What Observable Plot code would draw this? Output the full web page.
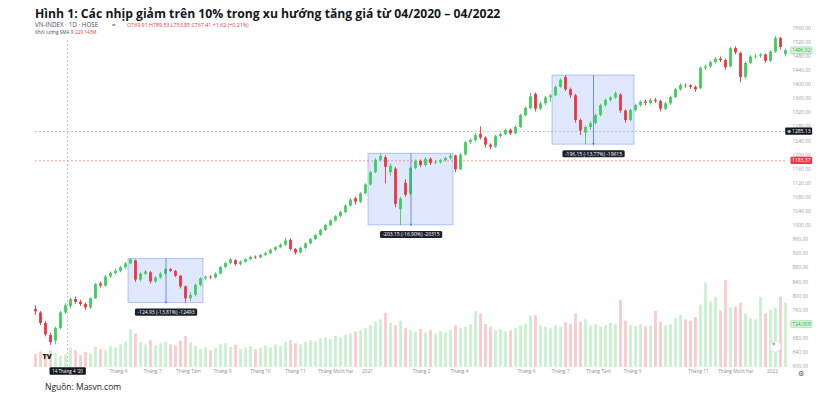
<!DOCTYPE html>
<html><head><meta charset="utf-8">
<script src="https://cdn.jsdelivr.net/npm/d3@7"></script>
<script src="https://cdn.jsdelivr.net/npm/@observablehq/plot@0.6"></script>
<style>
html,body{margin:0;padding:0;background:#fff;}
#wrap{position:relative;width:830px;height:397px;overflow:hidden;font-family:"Open Sans",sans-serif;}
#wrap > div, #wrap > svg{position:absolute;left:0;top:0;}
#wrap svg{overflow:visible;}
</style></head><body>
<div id="wrap">
  <div id="vol"></div>
  <div id="price"></div>
  <svg id="texts" width="830" height="397" style="pointer-events:none">
    <text x="35" y="17.5" font-size="12.2" font-weight="700" fill="#131722" font-family="Open Sans">Hình 1: Các nhịp giảm trên 10% trong xu hướng tăng giá từ 04/2020 – 04/2022</text>
    <text x="35" y="27" font-size="6.3" fill="#4a4e57" font-family="Open Sans">VN-INDEX · 1D · HOSE</text>
    <text x="112" y="27" font-size="6.3" fill="#4a4e57" font-family="Open Sans">=</text>
    <text x="127" y="27" font-size="5.3" fill="#e5383b" font-family="Open Sans">O769.91 H789.53 L753.85 C767.41 +1.62 (+0.21%)</text>
    <text x="35" y="33.6" font-size="4.7" fill="#4a4e57" font-family="Open Sans">Khối lượng SMA 9</text>
    <text x="75" y="33.6" font-size="4.7" fill="#e5383b" font-family="Open Sans">229.143M</text>
    <text x="45" y="390" font-size="8.5" fill="#222" font-family="Open Sans">Nguồn: Masvn.com</text>
  </svg>
</div>
<script>
// ---- data (one bar ≈ 2-3 trading sessions, 03/2020 → 01/2022) ----
const opens = [762,752,722,688,672,708,752,770,790,782,776,766,792,834,828,854,864,870,880,891,
900,845,862,866,840,851,862,875,870,856,826,792,802,830,849,853,851,862,881,892,
900,889,896,903,910,908,915,920,930,937,944,958,932,922,935,948,960,972,986,1000,
1013,1025,1037,1055,1076,1066,1090,1115,1150,1185,1192,1150,1160,1045,1120,1088,1162,1182,1170,1188,
1176,1178,1184,1190,1197,1158,1200,1235,1241,1258,1248,1228,1222,1252,1258,1270,1260,1278,1312,1332,
1372,1330,1345,1362,1368,1392,1420,1385,1368,1298,1262,1278,1289,1312,1340,1355,1362,1370,1325,1298,
1326,1340,1350,1346,1355,1352,1330,1345,1363,1385,1397,1396,1392,1388,1446,1450,1462,1472,1468,1450,
1502,1488,1420,1460,1478,1480,1484,1466,1492,1530,1485];
const closes = [755,722,690,668,708,752,772,790,782,776,766,792,832,828,854,864,870,880,891,903,
845,862,868,840,851,862,875,870,856,826,792,802,830,849,853,851,862,881,892,903,
889,896,903,910,908,915,920,930,937,944,956,932,922,935,948,960,972,986,1000,1013,
1025,1037,1055,1072,1066,1090,1115,1150,1185,1196,1165,1168,1060,1075,1086,1162,1182,1170,1188,1176,
1178,1184,1190,1197,1158,1200,1235,1241,1255,1248,1228,1222,1252,1258,1270,1260,1278,1312,1332,1365,
1330,1345,1362,1368,1392,1412,1385,1368,1298,1268,1278,1289,1312,1340,1355,1362,1374,1325,1298,1326,
1340,1350,1346,1355,1352,1330,1345,1363,1385,1397,1396,1392,1385,1446,1450,1462,1472,1468,1448,1502,
1490,1420,1460,1478,1480,1484,1466,1492,1530,1505,1496];
const highs = [772,756,728,695,712,756,778,794,797,788,780,795,836,840,858,868,876,884,895,906,
902,866,872,870,855,866,878,878,872,858,828,810,834,852,857,858,866,884,896,907,
903,900,906,913,914,918,924,933,940,948,964,962,935,938,951,963,975,989,1004,1016,
1028,1041,1059,1076,1080,1094,1119,1154,1190,1204,1198,1175,1165,1080,1130,1166,1186,1186,1192,1192,
1184,1188,1194,1202,1200,1204,1238,1246,1262,1280,1252,1232,1256,1262,1274,1274,1282,1316,1336,1375,
1376,1350,1366,1372,1396,1416,1425,1390,1372,1302,1282,1294,1316,1344,1359,1366,1379,1374,1328,1330,
1344,1354,1356,1360,1360,1355,1349,1367,1389,1402,1402,1400,1396,1450,1455,1466,1476,1478,1472,1506,
1507,1492,1464,1482,1486,1488,1487,1496,1536,1534,1500];
const lows = [745,716,684,660,662,704,748,764,776,770,760,762,790,822,825,850,860,866,876,888,
838,840,858,834,836,848,858,866,852,820,780,784,798,826,845,847,848,860,878,889,
885,885,892,900,904,905,912,917,926,934,941,927,916,919,932,945,957,969,983,996,
1009,1021,1034,1052,1058,1062,1087,1112,1147,1180,1118,1140,1050,1000,1080,1084,1158,1164,1166,1170,
1172,1174,1180,1186,1150,1155,1197,1230,1237,1243,1220,1215,1219,1248,1255,1255,1257,1275,1308,1328,
1322,1326,1340,1350,1365,1389,1380,1360,1290,1255,1229,1270,1285,1308,1336,1350,1358,1318,1290,1294,
1322,1336,1340,1342,1346,1322,1326,1341,1360,1381,1390,1386,1378,1385,1440,1446,1458,1462,1440,1447,
1484,1405,1414,1456,1472,1474,1460,1462,1488,1498,1478];
const volumes = [220,260,200,280,240,190,210,330,280,200,250,230,340,300,280,350,330,380,430,640,
560,420,380,450,360,400,420,380,360,440,520,420,360,300,330,280,320,380,400,340,
370,300,330,350,300,320,360,330,380,350,420,450,400,380,420,450,430,480,500,470,
520,490,540,560,600,620,650,700,760,800,910,740,700,780,650,620,600,640,580,620,
560,600,580,620,700,650,680,720,940,900,720,680,620,640,600,620,650,700,720,860,
870,700,680,650,700,680,750,720,900,760,800,700,720,680,700,740,720,1130,780,700,
690,720,680,700,940,760,700,720,820,880,800,780,840,1050,1420,1100,1180,950,1460,1000,
1020,1080,900,820,800,1180,900,960,1000,1180,1080];

// correction boxes (bar index span, top price, bottom price, label)
const boxStart = [18.6, 66.6, 103.4];
const boxEnd   = [33.6, 83.6, 119.8];
const boxTop   = [905, 1203.5, 1425.5];
const boxBottom= [780.07, 1000.35, 1229.35];
const boxLabels= ["-124.93 (-13.81%) -12493", "-203.15 (-16.90%) -20315", "-196.15 (-13.77%) -19615"];

// axes (720.00 is hidden under the volume-SMA tag in the reference)
const yTicks = [600,640,680,760,800,840,880,920,960,1000,1040,1080,1120,1160,1200,1240,1280,1320,1360,1400,1440,1480,1520,1560];
const xTickIdx = [16.6,23.4,30.6,37.4,45,52,60,66.4,77.2,84.8,98.2,105,112.6,119.4,132.6,140,147.4];
const xTickLabels = ["Tháng 6","Tháng 7","Tháng Tám","Tháng 9","Tháng 10","Tháng 11","Tháng Mười hai","2021","Tháng 2","Tháng 4","Tháng 6","Tháng 7","Tháng Tám","Tháng 9","Tháng 11","Tháng Mười hai","2022"];

// crosshair & price lines
const crossIdx = 6.4;
const crossDate = "14 Tháng 4 '20";
const crossPrice = 1266.7;
const crossPriceLabel = "⊕ 1285.13";
const prevLine = 1183.37;
const lastPrice = 1496.02;
const volSMA = 724.009;

// ---- build ----
const UP = "#3dcf5b", DN = "#ee3441", VUP = "#c6f0cb", VDN = "#f8c8ca";
const bars = opens.map((o, i) => ({i, o, c: closes[i], h: highs[i], l: lows[i], v: volumes[i]}));
const boxes = boxStart.map((s, k) => ({x1: s, x2: boxEnd[k], hi: boxTop[k], lo: boxBottom[k], label: boxLabels[k]}));
const xTicks = xTickIdx.map((i, k) => ({i, label: xTickLabels[k]}));
const priceTags = [
  {v: lastPrice, text: lastPrice.toFixed(2), fill: "#22a83a"},
  {v: crossPrice, text: crossPriceLabel, fill: "#ffffff"},
  {v: prevLine, text: prevLine.toFixed(2), fill: "#ffffff"}
];

const W = 830, H = 397, ML = 35, MR = 45, MT = 27.6;
const FONT = "Open Sans, sans-serif";
const n = bars.length - 1;

const volPlot = Plot.plot({
  width: W, height: H, marginTop: MT, marginBottom: 30, marginLeft: ML, marginRight: MR,
  style: {background: "transparent", fontFamily: FONT, overflow: "visible"},
  x: {domain: [0, n], axis: null},
  y: {domain: [0, 5700], axis: null},
  marks: [
    Plot.ruleX(bars, {x: "i", y1: 0, y2: "v", stroke: d => d.c >= d.o ? VUP : VDN, strokeWidth: 2.6}),
    Plot.text([{v: volSMA}], {frameAnchor: "right", y: "v", text: d => d.v.toFixed(3), dx: 25, textAnchor: "end", fontSize: 5, fill: "#22a83a"})
  ]
});

const pricePlot = Plot.plot({
  width: W, height: H, marginTop: MT, marginBottom: 31, marginLeft: ML, marginRight: MR,
  style: {background: "transparent", fontFamily: FONT, overflow: "visible"},
  x: {domain: [0, n], axis: null},
  y: {domain: [600, 1560], axis: null},
  marks: [
    Plot.rect(boxes, {x1: "x1", x2: "x2", y1: "lo", y2: "hi", fill: "#2962ff", fillOpacity: 0.15, stroke: "#2962ff", strokeOpacity: 0.4, strokeWidth: 0.8}),
    Plot.ruleY([prevLine], {stroke: "#f07f85", strokeDasharray: "2,2", strokeWidth: 0.8}),
    Plot.ruleY([crossPrice], {stroke: "#b2b5be", strokeDasharray: "2,2", strokeWidth: 0.8}),
    Plot.ruleX([crossIdx], {y1: 600, y2: 1530, stroke: "#b2b5be", strokeDasharray: "2,2", strokeWidth: 0.8}),
    Plot.ruleX(bars, {x: "i", y1: "l", y2: "h", stroke: d => d.c >= d.o ? UP : DN, strokeWidth: 0.9}),
    Plot.ruleX(bars, {x: "i", y1: "o", y2: "c", stroke: d => d.c >= d.o ? UP : DN, strokeWidth: 2.8}),
    Plot.arrow(boxes, {x1: d => (d.x1 + d.x2) / 2, x2: d => (d.x1 + d.x2) / 2, y1: "hi", y2: "lo", stroke: "#4f74e3", strokeWidth: 0.8, headLength: 3}),
    Plot.text(boxes, {x: d => (d.x1 + d.x2) / 2, y: "lo", text: "label", dy: 9.5, fill: "#ffffff", fontSize: 5}),
    Plot.axisY(yTicks, {anchor: "right", tickSize: 0, tickPadding: 7, tickFormat: d => d.toFixed(2), fontSize: 5, fill: "#9a9ea8", label: null}),
    Plot.text(priceTags, {frameAnchor: "right", y: "v", text: "text", fill: "fill", dx: 25, textAnchor: "end", fontSize: 5}),
    Plot.text(xTicks, {x: "i", text: "label", frameAnchor: "bottom", dy: 6, fontSize: 4.8, fill: "#8a8e97"}),
    Plot.text([crossDate], {x: crossIdx, frameAnchor: "bottom", dy: 6.5, fontSize: 4.6, fill: "#ffffff"}),
    Plot.text(["TV"], {frameAnchor: "bottom-left", dx: 7, dy: -8, fontSize: 7, fontWeight: 900, fill: "#131722"}),
    Plot.dot([0], {frameAnchor: "bottom-right", dx: -10, dy: -20, r: 5.5, fill: "#ffffff", stroke: "#d1d4dc", strokeWidth: 0.7}),
    Plot.text(["»"], {frameAnchor: "bottom-right", dx: -10, dy: -20.5, fontSize: 7, fill: "#50535e"}),
    Plot.text(["⚙"], {frameAnchor: "bottom-right", dx: 18, dy: 9.5, fontSize: 7, fill: "#50535e"})
  ]
});

document.getElementById("vol").appendChild(volPlot);
document.getElementById("price").appendChild(pricePlot);

// label backgrounds, sized from rendered text
const bgSpecs = {};
boxLabels.forEach(t => bgSpecs[t] = {bg: "#1e222d", stroke: "none", px: 2.5, py: 0.6, rx: 1.5});
bgSpecs[crossDate] = {bg: "#131722", stroke: "none", px: 2.5, py: 0.8, rx: 1};
bgSpecs[crossPriceLabel] = {bg: "#131722", stroke: "none", px: 1.5, py: 0.6, rx: 1};
bgSpecs[prevLine.toFixed(2)] = {bg: "#f23645", stroke: "none", px: 1.5, py: 0.6, rx: 1};
bgSpecs[lastPrice.toFixed(2)] = {bg: "#dcf6df", stroke: "#5fd374", px: 1.2, py: 0.3, rx: 0.5};
bgSpecs[volSMA.toFixed(3)] = {bg: "#dcf6df", stroke: "#5fd374", px: 1.2, py: 0.3, rx: 0.5};

function addBackgrounds(svg) {
  d3.select(svg).selectAll("text").each(function() {
    const s = bgSpecs[this.textContent];
    if (!s) return;
    const b = this.getBBox();
    const r = document.createElementNS("http://www.w3.org/2000/svg", "rect");
    r.setAttribute("x", b.x - s.px);
    r.setAttribute("y", b.y - s.py);
    r.setAttribute("width", b.width + 2 * s.px);
    r.setAttribute("height", b.height + 2 * s.py);
    r.setAttribute("rx", s.rx);
    r.setAttribute("fill", s.bg);
    r.setAttribute("stroke", s.stroke);
    r.setAttribute("stroke-width", 0.5);
    const tr = this.getAttribute("transform");
    if (tr) r.setAttribute("transform", tr);
    this.parentNode.insertBefore(r, this);
  });
}
addBackgrounds(volPlot);
addBackgrounds(pricePlot);
</script>
</body></html>
